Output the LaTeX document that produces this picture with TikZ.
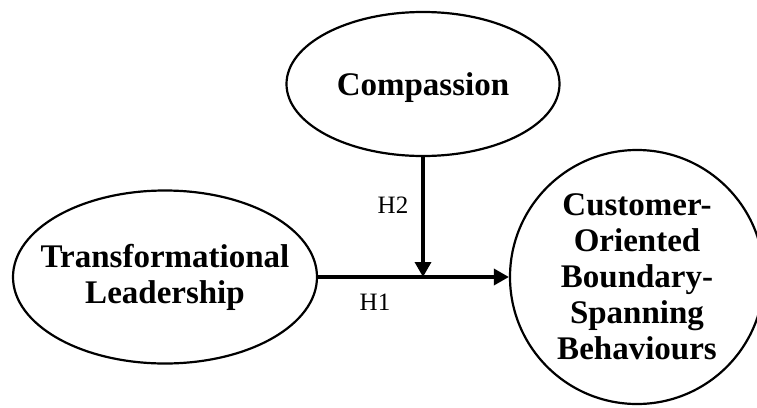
\documentclass[tikz,border=0pt]{standalone}
\usepackage{fontspec}
\setmainfont{Liberation Serif}
\usetikzlibrary{positioning}
\usetikzlibrary{arrows.meta}
\usetikzlibrary{shapes.geometric}

\begin{document}
\begin{tikzpicture}[%
  x=1pt, y=-1pt,
  construct/.style={draw, ellipse, line width=2.2pt, inner sep=0pt},
  term/.style={font=\bfseries\fontsize{33}{36}\selectfont, align=center},
  hyp/.style={font=\fontsize{25}{28}\selectfont},
  path/.style={line width=3.4pt, -{Triangle[length=15pt,width=16pt]}},
]

  \useasboundingbox (0,0) rectangle (757,407);

  \node[construct, term, text depth=0pt, minimum width=273pt, minimum height=144pt] (comp) at (423,84) {Compassion};
  \node[construct, minimum width=304pt, minimum height=173pt] (lead) at (165,277) {};
  \node[term] (leadtext) at (lead.center) {Transformational\\Leadership};
  \node[construct, circle, term, minimum size=254pt] (cobsb) at (637,277)
    {Customer-\\Oriented\\Boundary-\\Spanning\\Behaviours};

  % Paths
  \coordinate (meet) at (comp.south |- lead.east);
  \draw[path] (lead.east) -- (cobsb.west);
  \draw[path] (comp.south) -- (meet);

  \node[hyp] (h2) at (393,205) {H2};
  \node[hyp] (h1) at (375,302) {H1};

\end{tikzpicture}
\end{document}
